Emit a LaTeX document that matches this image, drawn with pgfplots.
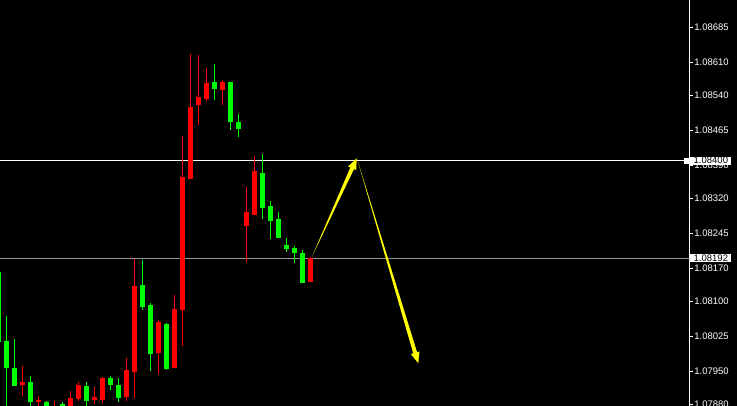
\documentclass[border=0pt]{standalone}
\usepackage{fontspec}
\setmainfont{Liberation Sans}
\usepackage{pgfplots}
\usepackage{pgfplotstable}
\pgfplotsset{compat=1.18}

% x = bar index, o h l c = open high low close
% red bars close above their open, green bars below
\pgfplotstableread{
x  o       h       l       c
2  1.07921 1.07963 1.07899 1.07928
4  1.07885 1.07897 1.07872 1.07889
6  1.07863 1.07887 1.07860 1.07872
8  1.07867 1.07908 1.07860 1.07894
9  1.07892 1.07929 1.07887 1.07921
11 1.07889 1.07916 1.07881 1.07895
12 1.07891 1.07940 1.07883 1.07938
15 1.07895 1.07978 1.07887 1.07953
16 1.07949 1.08191 1.07894 1.08132
19 1.07990 1.08060 1.07944 1.08056
21 1.07958 1.08115 1.07958 1.08083
22 1.08082 1.08453 1.08003 1.08366
23 1.08362 1.08628 1.08362 1.08517
24 1.08518 1.08628 1.08477 1.08536
25 1.08532 1.08600 1.08528 1.08566
27 1.08553 1.08572 1.08518 1.08570
30 1.08260 1.08344 1.08184 1.08291
31 1.08286 1.08411 1.08285 1.08378
38 1.08141 1.08194 1.08141 1.08192
}\redbars

\pgfplotstableread{
x  o       h       l       c
-1 1.08162 1.08162 1.08013 1.08013
0  1.08015 1.08068 1.07857 1.07958
1  1.07959 1.08019 1.07919 1.07919
3  1.07929 1.07940 1.07867 1.07885
5  1.07886 1.07887 1.07860 1.07863
7  1.07880 1.07885 1.07860 1.07867
10 1.07919 1.07927 1.07876 1.07887
13 1.07936 1.07941 1.07910 1.07921
14 1.07921 1.07937 1.07885 1.07893
17 1.08135 1.08188 1.08082 1.08088
18 1.08092 1.08097 1.07951 1.07988
20 1.08053 1.08054 1.07954 1.07956
26 1.08568 1.08607 1.08530 1.08553
28 1.08568 1.08568 1.08466 1.08483
29 1.08483 1.08502 1.08453 1.08468
32 1.08376 1.08414 1.08276 1.08301
33 1.08305 1.08314 1.08233 1.08272
34 1.08275 1.08290 1.08236 1.08236
35 1.08220 1.08235 1.08206 1.08211
36 1.08214 1.08218 1.08182 1.08203
37 1.08203 1.08211 1.08139 1.08139
}\greenbars

\pgfplotsset{
  wick/.style={draw=none, no markers,
    error bars/.cd, y dir=both, y explicit, error mark=none,
    error bar style={line width=1bp, draw=#1, solid}},
  body/.style={draw=none, no markers,
    error bars/.cd, y dir=both, y explicit, error mark=none,
    error bar style={line width=5bp, draw=#1, solid}},
}

\definecolor{mtred}{RGB}{255,0,0}
\definecolor{mtgreen}{RGB}{0,255,0}
\definecolor{mtgray}{RGB}{150,150,150}
\definecolor{mtyellow}{RGB}{255,255,0}

\begin{document}
\begin{tikzpicture}
\path[fill=black, use as bounding box] (0,0) rectangle (737bp,406bp);
\begin{axis}[
  at={(0,0)}, anchor=south west,
  scale only axis, width=689.7bp, height=406bp,
  xmin=-0.7875, xmax=85.425,
  ymin=1.0787587, ymax=1.0874333,
  axis background/.style={fill=black},
  axis x line=none, axis y line*=right,
  y axis line style={white, line width=1bp},
  xtick=\empty,
  ytick={1.08685,1.08610,1.08540,1.08465,1.08390,1.08320,1.08245,1.08170,1.08100,1.08025,1.07950,1.07880},
  yticklabels={1.08685,1.08610,1.08540,1.08465,1.08390,1.08320,1.08245,1.08170,1.08100,1.08025,1.07950,1.07880},
  tick align=outside, major tick length=3bp,
  ytick style={white, line width=0.8bp},
  yticklabel style={white, anchor=west, inner sep=0pt, xshift=1.5bp,
    font=\fontsize{9.5bp}{11bp}\selectfont},
]
% horizontal levels
\addplot[mtgray, line width=1bp] coordinates {(-1,1.08192) (86,1.08192)};
\addplot[white, line width=1bp] coordinates {(-1,1.08400) (84.9,1.08400)};
\addplot[white, only marks, mark=square*, mark size=2.3bp] coordinates {(85.05,1.08400)};

% wicks
\addplot[wick=mtred] table[x=x, y expr=(\thisrow{h}+\thisrow{l})/2, y error expr=(\thisrow{h}-\thisrow{l})/2] {\redbars};
\addplot[wick=mtgreen] table[x=x, y expr=(\thisrow{h}+\thisrow{l})/2, y error expr=(\thisrow{h}-\thisrow{l})/2] {\greenbars};
% bodies
\addplot[body=mtred] table[x=x, y expr=(\thisrow{o}+\thisrow{c})/2, y error expr=abs(\thisrow{c}-\thisrow{o})/2] {\redbars};
\addplot[body=mtgreen] table[x=x, y expr=(\thisrow{o}+\thisrow{c})/2, y error expr=abs(\thisrow{c}-\thisrow{o})/2] {\greenbars};

% projected path arrows
\addplot[fill=mtyellow, draw=none] coordinates {
  (38.2125,1.0819486) (43.459,1.0838197) (43.744,1.0837976) (43.8,1.0840511)
  (42.719,1.0838771) (43.004,1.0838551)} -- cycle;
\addplot[fill=mtyellow, draw=none] coordinates {
  (43.8375,1.0840468) (51.346,1.0799084) (51.645,1.0799238) (51.5,1.0796710)
  (50.5675,1.0798687) (50.866,1.0798841)} -- cycle;

\coordinate (lvlA) at (axis cs:85.425,1.08400);
\coordinate (lvlB) at (axis cs:85.425,1.08192);
\end{axis}
\node[fill=white, text=black, anchor=west, inner xsep=3.3bp, inner ysep=0.8bp,
  font=\fontsize{9.5bp}{11bp}\selectfont, xshift=0.5bp] at (lvlA) {1.08400};
\node[fill=white, text=black, anchor=west, inner xsep=3.3bp, inner ysep=0.8bp,
  font=\fontsize{9.5bp}{11bp}\selectfont, xshift=0.5bp] at (lvlB) {1.08192};
\end{tikzpicture}
\end{document}
